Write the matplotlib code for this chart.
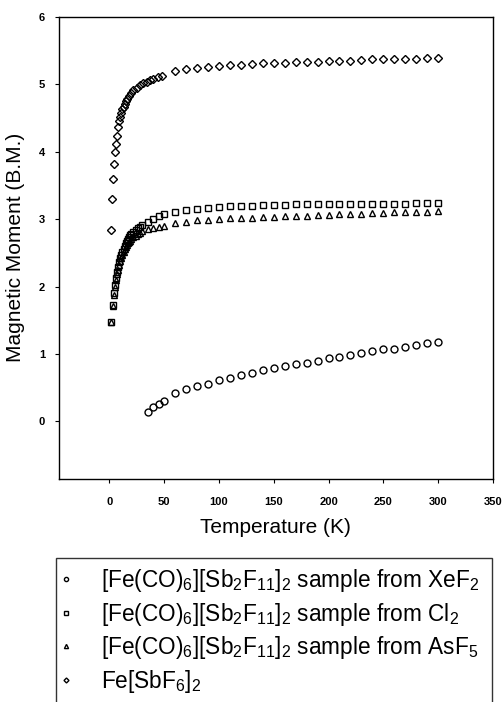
import numpy as np
import matplotlib
matplotlib.use('Agg')
import matplotlib.pyplot as plt

plt.rcParams['font.family'] = 'Liberation Sans'
plt.rcParams['mathtext.fontset'] = 'custom'
plt.rcParams['mathtext.rm'] = 'Liberation Sans'
plt.rcParams['mathtext.it'] = 'Liberation Sans'

# temperatures above 50 K, common to all series
T_high = [60, 70, 80, 90, 100, 110, 120, 130, 140, 150, 160, 170, 180, 190, 200,
          210, 220, 230, 240, 250, 260, 270, 280, 290, 300]

# [Fe(CO)6][Sb2F11]2 from XeF2 (circles)
T_xef2 = [35, 40, 45, 50] + T_high
mu_xef2 = [0.14, 0.22, 0.26, 0.30, 0.42, 0.48, 0.52, 0.56, 0.61, 0.65, 0.69, 0.72,
           0.76, 0.79, 0.82, 0.85, 0.87, 0.90, 0.94, 0.96, 0.98, 1.01, 1.04, 1.07,
           1.08, 1.11, 1.13, 1.16, 1.18]

# low temperature points for the Cl2 / AsF5 samples
T_low = [2, 3, 4, 5, 6, 7, 8, 9, 10, 11, 12, 13, 14, 15, 16, 17, 18, 19, 20,
         22, 24, 26, 28, 30, 35, 40, 45, 50]

# from Cl2 (squares)
T_cl2 = T_low + T_high
mu_cl2 = [1.48, 1.72, 1.90, 2.02, 2.12, 2.21, 2.29, 2.36, 2.42, 2.47, 2.52, 2.56,
          2.60, 2.64, 2.67, 2.70, 2.73, 2.76, 2.78, 2.81, 2.84, 2.87, 2.89, 2.92,
          2.96, 3.00, 3.04, 3.07,
          3.10, 3.13, 3.15, 3.17, 3.18, 3.19, 3.20, 3.20, 3.21, 3.21, 3.21, 3.22,
          3.22, 3.22, 3.22, 3.22, 3.23, 3.23, 3.23, 3.23, 3.23, 3.23, 3.24, 3.24, 3.24]

# from AsF5 (triangles)
T_asf5 = T_low + T_high
mu_asf5 = [1.47, 1.71, 1.88, 2.00, 2.10, 2.18, 2.25, 2.32, 2.38, 2.43, 2.47, 2.51,
           2.55, 2.58, 2.61, 2.64, 2.66, 2.68, 2.70, 2.73, 2.75, 2.78, 2.80, 2.82,
           2.85, 2.87, 2.89, 2.90,
           2.94, 2.96, 2.98, 2.99, 3.00, 3.01, 3.01, 3.02, 3.03, 3.03, 3.04, 3.05,
           3.05, 3.06, 3.06, 3.07, 3.08, 3.08, 3.09, 3.09, 3.10, 3.10, 3.11, 3.11, 3.12]

# Fe[SbF6]2 (diamonds)
T_sbf6 = [2, 2.5, 3, 4, 5, 6, 7, 8, 9, 10, 11, 12, 13, 14, 15, 16, 18, 20, 22, 25,
          28, 31, 34, 37, 40, 44, 48] + T_high
mu_sbf6 = [2.84, 3.30, 3.60, 3.82, 3.99, 4.12, 4.24, 4.36, 4.45, 4.52, 4.58, 4.63,
           4.67, 4.71, 4.75, 4.78, 4.83, 4.87, 4.91, 4.95, 4.99, 5.02, 5.04, 5.07,
           5.08, 5.11, 5.13,
           5.19, 5.22, 5.24, 5.25, 5.27, 5.28, 5.29, 5.30, 5.31, 5.32, 5.32, 5.33,
           5.33, 5.33, 5.34, 5.35, 5.35, 5.36, 5.37, 5.37, 5.37, 5.38, 5.38, 5.39, 5.39]

labels = [r'[Fe(CO)$_6$][Sb$_2$F$_{11}$]$_2$ sample from XeF$_2$',
          r'[Fe(CO)$_6$][Sb$_2$F$_{11}$]$_2$ sample from Cl$_2$',
          r'[Fe(CO)$_6$][Sb$_2$F$_{11}$]$_2$ sample from AsF$_5$',
          r'Fe[SbF$_6$]$_2$']

fig = plt.figure(figsize=(5.03, 7.02), dpi=100)
ax = fig.add_axes([0.117, 0.318, 0.863, 0.658])

style = dict(linestyle='none', markerfacecolor='none', markeredgecolor='black',
             markeredgewidth=1.0)
h1, = ax.plot(T_xef2, mu_xef2, marker='o', markersize=5, label=labels[0], **style)
h2, = ax.plot(T_cl2, mu_cl2, marker='s', markersize=4.6, label=labels[1], **style)
h3, = ax.plot(T_asf5, mu_asf5, marker='^', markersize=5, label=labels[2], **style)
h4, = ax.plot(T_sbf6, mu_sbf6, marker='D', markersize=4.2, label=labels[3], **style)

ax.set_xlim(-46, 350)
ax.set_ylim(-0.85, 6)
ax.set_xticks([0, 50, 100, 150, 200, 250, 300, 350])
ax.set_yticks([0, 1, 2, 3, 4, 5, 6])
ax.tick_params(direction='out', length=3, width=0.8, labelsize=8, pad=4)
for lab in ax.get_xticklabels() + ax.get_yticklabels():
    lab.set_fontweight('bold')
ax.tick_params(axis='x', pad=10)
ax.tick_params(axis='y', pad=7)
for sp in ax.spines.values():
    sp.set_linewidth(1.0)

ax.set_xlabel('Temperature (K)', fontsize=15, labelpad=8)
ax.set_ylabel('Magnetic Moment (B.M.)', fontsize=15, labelpad=10)

leg = fig.legend(handles=[h1, h2, h3, h4], loc='upper left',
                 bbox_to_anchor=(0.111, 0.0, 0.867, 0.205), mode='expand',
                 fontsize=16.3, markerscale=0.6, frameon=True, fancybox=False,
                 handlelength=0.1, handletextpad=1.48, labelspacing=0.29,
                 borderpad=0.4, borderaxespad=0)
leg.get_frame().set_edgecolor('black')
leg.get_frame().set_linewidth(1.0)

fig.savefig('out.png', dpi=100)
